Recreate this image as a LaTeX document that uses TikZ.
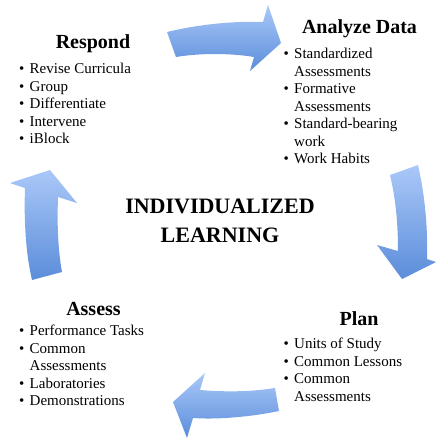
\documentclass[tikz,border=0pt]{standalone}
\usepackage{fontspec}
\setmainfont{Liberation Serif}

\definecolor{arrowlight}{HTML}{AAC8F8}
\definecolor{arrowdark}{HTML}{5B8DDA}

\newcommand{\itm}{\makebox[10.5pt][l]{\textbullet}}
\newcommand{\cnt}{\hspace*{10.5pt}}

\tikzset{
  stagetitle/.style={font=\bfseries\fontsize{20}{24}\selectfont, anchor=base, inner sep=0pt},
  stagelist/.style={font=\fontsize{15}{17.5}\selectfont, align=left, anchor=north west, inner sep=0pt},
  cyclearrow/.style={top color=arrowlight, bottom color=arrowdark},
}

\begin{document}
\begin{tikzpicture}[x=1pt, y=-1pt]
    \useasboundingbox (0,0) rectangle (437,440);
    % the four curved arrows
    \shade[cyclearrow] (167,32) .. controls (200,24) and (235,21) .. (263,22) -- (268,5) -- (281,43) -- (250,71) -- (254,57) .. controls (230,53) and (200,53) .. (176,57) -- cycle;
    \shade[cyclearrow] (390,175) -- (418,165) .. controls (425,195) and (428,230) .. (427,259) -- (436,262) -- (402,279) -- (377,245) -- (398,251) .. controls (398,225) and (396,200) .. (390,175) -- cycle;
    \shade[cyclearrow] (275,388) .. controls (250,392) and (225,392) .. (200,390) -- (205,373) -- (173,402) -- (187,438) -- (193,418) .. controls (220,420) and (255,416) .. (279,411) -- cycle;
    \shade[cyclearrow] (32,280) .. controls (25,250) and (24,215) .. (25,188) -- (10,183) -- (50,170) -- (77,203) -- (58,197) .. controls (57,225) and (58,250) .. (62,272) -- cycle;
    % centre
    \node[font=\bfseries\fontsize{22}{29}\selectfont, align=center, inner sep=0pt] (core) at (220,221) {INDIVIDUALIZED\\LEARNING};
    % respond
    \node[stagetitle] (respT) at (93,48) {Respond};
    \node[stagelist] (respL) at (19,63) {\itm Revise Curricula\\\itm Group\\\itm Differentiate\\\itm Intervene\\\itm iBlock};
    % analyze data
    \node[stagetitle] (anaT) at (359.5,33) {Analyze Data};
    \node[stagelist] (anaL) at (283.5,48) {\itm Standardized\\\cnt Assessments\\\itm Formative\\\cnt Assessments\\\itm Standard-bearing\\\cnt work\\\itm Work Habits};
    % plan
    \node[stagetitle] (planT) at (359,325) {Plan};
    \node[stagelist] (planL) at (283.5,338) {\itm Units of Study\\\itm Common Lessons\\\itm Common\\\cnt Assessments};
    % assess
    \node[stagetitle] (assT) at (93.5,315) {Assess};
    \node[stagelist] (assL) at (19,325) {\itm Performance Tasks\\\itm Common\\\cnt Assessments\\\itm Laboratories\\\itm Demonstrations};
\end{tikzpicture}
\end{document}
